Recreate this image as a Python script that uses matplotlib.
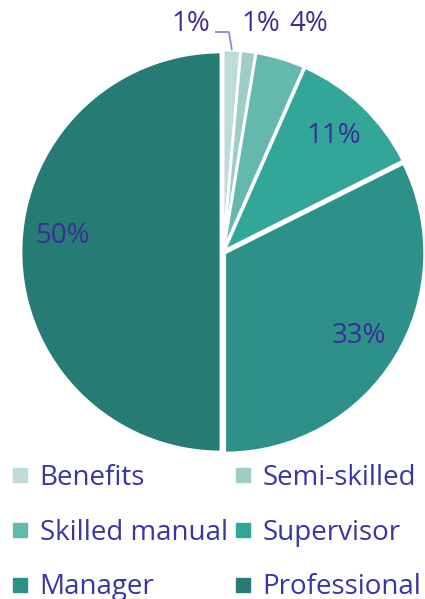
import matplotlib
matplotlib.use("Agg")
import matplotlib.pyplot as plt
from matplotlib.lines import Line2D
import numpy as np

categories = ["Benefits", "Semi-skilled", "Skilled manual", "Supervisor", "Manager", "Professional"]
values = [1.4, 1.2, 4.0, 11.0, 32.4, 50.0]
pct_labels = ["1%", "1%", "4%", "11%", "33%", "50%"]
colors = ["#bedcd7", "#9dcdc5", "#64b8ae", "#33a69a", "#2e9189", "#267c74"]

plt.rcParams['font.family'] = ['Open Sans', 'DejaVu Sans']
W, H = 425, 599
fig = plt.figure(figsize=(W / 100, H / 100), dpi=100)
ax = fig.add_axes([0, 0, 1, 1])

cx, cy, R = 223, 252, 200
wedges, _ = ax.pie(values, colors=colors, startangle=90, counterclock=False,
                   radius=1, explode=[0.01] * len(values),
                   wedgeprops=dict(edgecolor="white", linewidth=2))
ax.set_xlim(-cx / R, (W - cx) / R)
ax.set_ylim(-(H - cy) / R, cy / R)
ax.set_aspect('equal')
ax.axis('off')

txt_col = "#3a2f96"
fs_pct = 20
cum = np.cumsum([0] + values[:-1])
for i, (v, lab) in enumerate(zip(values, pct_labels)):
    mid = np.deg2rad(90 - 360 * (cum[i] + v / 2) / 100)
    if v >= 5:
        r = 0.80
        x, y = r * np.cos(mid), r * np.sin(mid)
        if i == len(values) - 1:
            y += 0.08
        ax.text(x, y, lab, ha='center', va='center', fontsize=fs_pct, color=txt_col)

# small-slice labels placed above the pie
small_x = [-0.16, 0.19, 0.43]
small_y = 1.14
for i, xs in enumerate(small_x):
    ax.text(xs, small_y, pct_labels[i], ha='center', va='center', fontsize=fs_pct, color=txt_col)
mid0 = np.deg2rad(90 - 360 * (values[0] / 2) / 100)
ax.plot([-0.04, 0.03, np.cos(mid0) * 1.01], [1.10, 1.10, np.sin(mid0) * 1.01],
        color="#8f86d9", lw=1.3, solid_capstyle='butt')

order = [0, 2, 4, 1, 3, 5]
handles = [Line2D([], [], marker='s', linestyle='', color=colors[i], markersize=10) for i in order]
labels = [categories[i] for i in order]
leg = fig.legend(handles, labels, loc='upper left', bbox_to_anchor=(0.028, 1 - 464 / H),
                 ncol=2, frameon=False, fontsize=20, handlelength=0.6, handletextpad=0.4,
                 columnspacing=0.25, labelspacing=0.96, borderaxespad=0, borderpad=0)
for t in leg.get_texts():
    t.set_color("#3b34a3")

fig.savefig("out.png", dpi=100)
